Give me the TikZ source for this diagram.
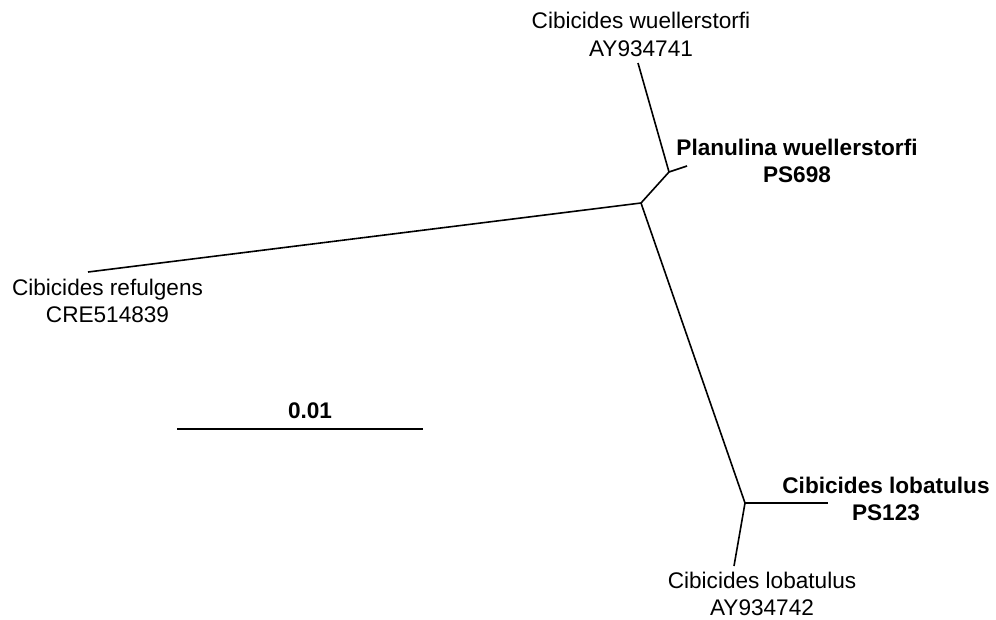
\documentclass[tikz,border=0pt]{standalone}
\usepackage{fontspec}
\setmainfont{Liberation Sans}
\begin{document}
\begin{tikzpicture}[x=1pt,y=-1pt,
  branch/.style={line width=1.6pt, line join=round},
  lab/.style={anchor=base, inner sep=0pt, font=\fontsize{22.6}{27}\selectfont},
  blab/.style={lab, font=\fontsize{22.6}{27}\selectfont\bfseries}]
\useasboundingbox (0,0) rectangle (996,619);
% tree nodes
\coordinate (C) at (641,203);
\coordinate (U) at (669,172);
\coordinate (L) at (745,503);
\coordinate (tWue) at (638,63);
\coordinate (tPlan) at (687,166);
\coordinate (tRef) at (88,272);
\coordinate (tPS) at (828,503);
\coordinate (tAY) at (734,566);
\coordinate (sbL) at (177,429);
\coordinate (sbR) at (423,429);
% branches
\draw[branch] (C) -- (tRef);
\draw[branch] (C) -- (U);
\draw[branch] (U) -- (tWue);
\draw[branch] (U) -- (tPlan);
\draw[branch] (C) -- (L);
\draw[branch] (L) -- (tPS);
\draw[branch] (L) -- (tAY);
\draw[branch] (sbL) -- (sbR);
% labels
\node[lab] (w1) at (641,28) {Cibicides wuellerstorfi};
\node[lab] (w2) at (641,56) {AY934741};
\node[blab] (p1) at (797,155) {Planulina wuellerstorfi};
\node[blab] (p2) at (797,182) {PS698};
\node[lab] (r1) at (107.5,295) {Cibicides refulgens};
\node[lab] (r2) at (107.5,322) {CRE514839};
\node[blab] (s1) at (886,493) {Cibicides lobatulus};
\node[blab] (s2) at (886,520) {PS123};
\node[lab] (a1) at (762,588) {Cibicides lobatulus};
\node[lab] (a2) at (762,615) {AY934742};
\node[blab] (sc) at (310,418) {0.01};
\end{tikzpicture}
\end{document}
